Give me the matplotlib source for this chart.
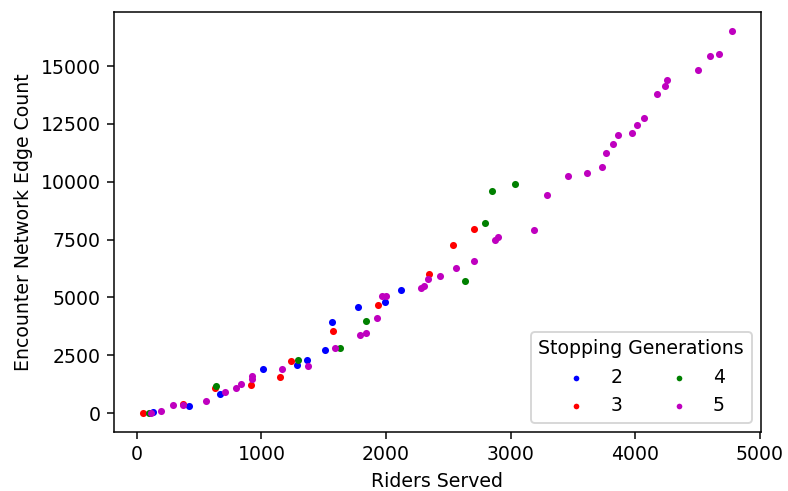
import matplotlib
matplotlib.use("Agg")
import matplotlib.pyplot as plt

# riders served / encounter network edge count, per stopping generation
gen2_x = [133, 417, 671, 1016, 1287, 1364, 1509, 1565, 1776, 1990, 2124]
gen2_y = [43, 302, 820, 1899, 2098, 2287, 2745, 3953, 4588, 4817, 5335]

gen3_x = [50, 372, 628, 915, 1148, 1238, 1575, 1939, 2346, 2538, 2707]
gen3_y = [0, 415, 1079, 1234, 1580, 2244, 3552, 4674, 6012, 7278, 7954]

gen4_x = [101, 636, 1297, 1629, 1840, 2637, 2793, 2851, 3034]
gen4_y = [0, 1191, 2313, 2805, 3970, 5697, 8213, 9607, 9926]

gen5_x = [112, 195, 294, 372, 556, 709, 797, 840, 923, 925, 1164, 1375,
          1594, 1792, 1840, 1931, 1966, 1998, 2284, 2303, 2336, 2432, 2560,
          2707, 2873, 2897, 3189, 3293, 3464, 3617, 3737, 3767, 3823, 3860,
          3978, 4013, 4069, 4173, 4240, 4253, 4507, 4601, 4671, 4775]
gen5_y = [0, 100, 345, 371, 531, 919, 1092, 1278, 1493, 1610, 1925, 2054,
          2818, 3392, 3452, 4127, 5063, 5077, 5393, 5494, 5783, 5913, 6285,
          6560, 7479, 7596, 7911, 9422, 10255, 10401, 10643, 11234, 11623,
          12041, 12128, 12473, 12758, 13794, 14156, 14385, 14847, 15451,
          15507, 16513]

series = [("2", gen2_x, gen2_y, "b"),
          ("3", gen3_x, gen3_y, "r"),
          ("4", gen4_x, gen4_y, "g"),
          ("5", gen5_x, gen5_y, "m")]

DPI = 136
fig = plt.figure(figsize=(788 / DPI, 491 / DPI), dpi=DPI)
ax = fig.add_axes([0.1443, 0.1196, 0.9657 - 0.1443, 0.9756 - 0.1196])

for label, xs, ys, col in series:
    ax.scatter(xs, ys, s=14, c=col, linewidths=0, label=label)

ax.set_xlabel("Riders Served")
ax.set_ylabel("Encounter Network Edge Count")
ax.set_xticks([0, 1000, 2000, 3000, 4000, 5000])
ax.set_yticks([0, 2500, 5000, 7500, 10000, 12500, 15000])
ax.set_xlim(-186, 5011)
ax.set_ylim(-826, 17339)

ax.legend(title="Stopping Generations", ncol=2, loc="lower right",
          markerscale=0.8)

fig.savefig("out.png", dpi=DPI)
